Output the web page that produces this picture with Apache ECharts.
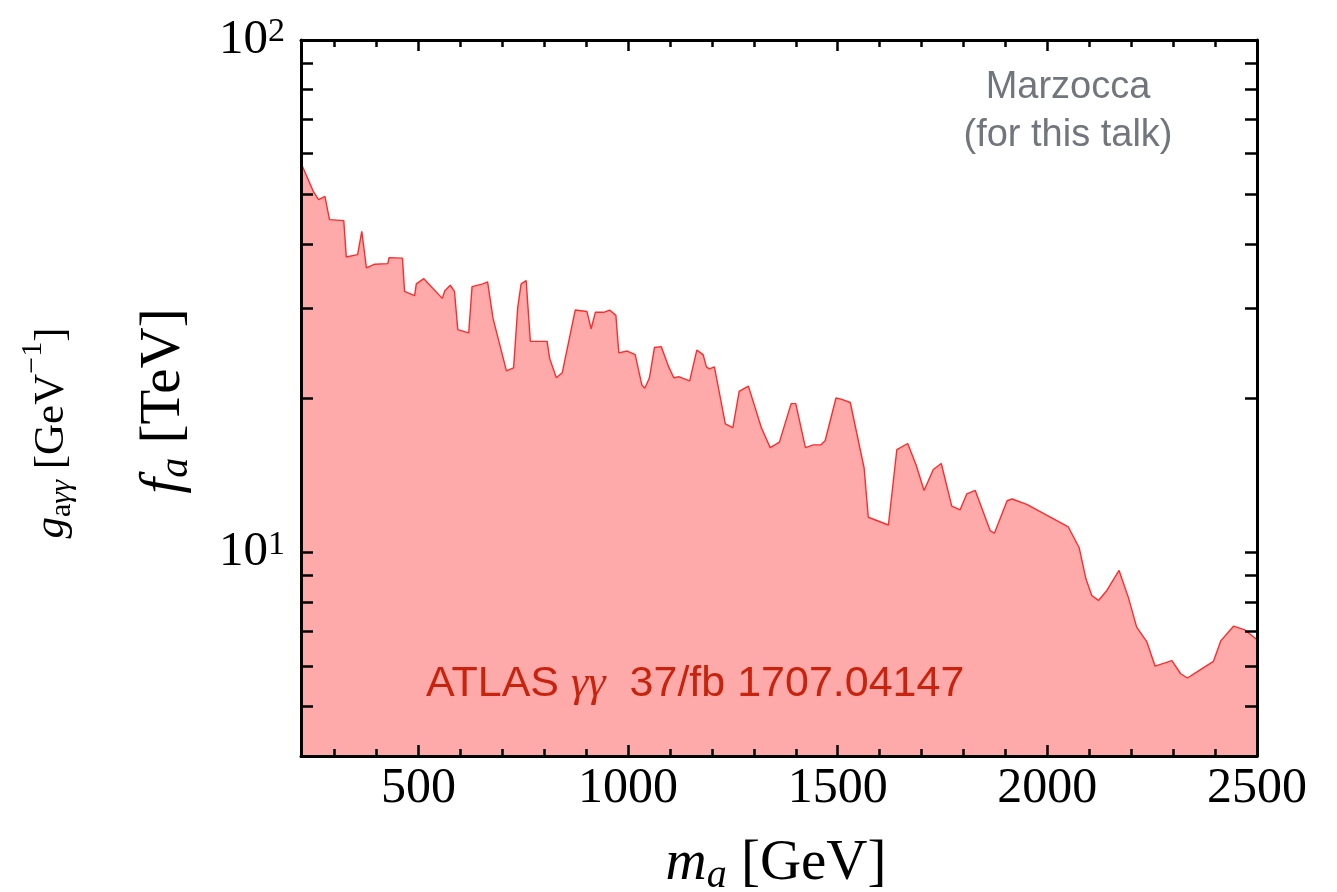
<!DOCTYPE html>
<html>
<head>
<meta charset="utf-8">
<script src="https://cdn.jsdelivr.net/npm/echarts@6/dist/echarts.min.js"></script>
<style>
  html, body { margin: 0; padding: 0; background: #ffffff; }
  #chart { width: 1337px; height: 892px; }
</style>
</head>
<body>
<div id="chart"></div>
<script>
// ATLAS diphoton exclusion translated into a lower bound on f_a
const massGeV = [220, 250, 262, 277, 288, 322, 328, 355, 365, 376,
  396, 427, 430, 462, 467, 491, 495, 513, 557, 563,
  576, 586, 594, 620, 628, 654, 665, 678, 710, 727,
  737, 745, 757, 767, 807, 813, 829, 843, 874, 902,
  912, 922, 942, 956, 971, 978, 998, 1017, 1033, 1040,
  1051, 1063, 1079, 1097, 1109, 1122, 1147, 1164, 1179, 1187,
  1194, 1206, 1232, 1250, 1265, 1287, 1318, 1339, 1361, 1389,
  1400, 1423, 1442, 1460, 1470, 1496, 1508, 1530, 1563, 1573,
  1621, 1641, 1667, 1687, 1706, 1728, 1747, 1772, 1792, 1808,
  1828, 1864, 1874, 1904, 1916, 1951, 2050, 2076, 2092, 2106,
  2122, 2142, 2171, 2193, 2213, 2237, 2257, 2297, 2318, 2334,
  2356, 2396, 2414, 2444, 2471, 2493, 2500];
const faTeV = [57.5, 50.5, 48.8, 49.5, 44.6, 44.4, 37.7, 38.1, 42.3, 35.9,
  36.5, 36.6, 37.6, 37.5, 32.3, 31.7, 33.4, 34.2, 31.3, 32.4,
  33.2, 32.3, 27.2, 26.8, 33.0, 33.4, 33.7, 28.6, 22.6, 22.9,
  30.1, 33.4, 33.9, 25.8, 25.8, 23.9, 21.9, 22.4, 29.7, 29.5,
  27.3, 29.4, 29.4, 29.7, 29.0, 24.5, 24.7, 24.3, 21.2, 20.9,
  21.9, 25.1, 25.2, 23.0, 21.9, 22.0, 21.6, 24.8, 24.3, 23.0,
  22.8, 23.0, 17.8, 17.5, 20.6, 21.1, 17.5, 16.0, 16.4, 19.5,
  19.5, 16.0, 16.2, 16.2, 16.5, 20.0, 19.9, 19.6, 14.6, 11.7,
  11.3, 15.85, 16.3, 14.8, 13.2, 14.5, 14.9, 12.3, 12.1, 13.0,
  13.2, 11.0, 10.9, 12.6, 12.7, 12.4, 11.2, 10.2, 8.87, 8.23,
  8.05, 8.42, 9.21, 8.17, 7.14, 6.69, 5.99, 6.14, 5.79, 5.68,
  5.83, 6.12, 6.72, 7.17, 7.05, 6.82, 6.75];

// Axis ranges and tick positions
const xRange = [220, 2500];
const yRange = [4, 100];
const xMajorTicks = [500, 1000, 1500, 2000, 2500];
const xMinorTicks = [300, 400, 600, 700, 800, 900, 1100, 1200, 1300, 1400,
  1600, 1700, 1800, 1900, 2100, 2200, 2300, 2400];
const yTicks = [5, 6, 7, 8, 9, 10, 20, 30, 40, 50, 60, 70, 80, 90, 100];
const yLabelValues = [10, 100];

const serif = '"Liberation Serif", "DejaVu Serif", serif';
const sans = '"Liberation Sans", Arial, sans-serif';

const chart = echarts.init(document.getElementById('chart'), null, { renderer: 'canvas' });

function xAxisDef(position, ticks, tickLen, withLine, withLabels) {
  return {
    type: 'value', position: position, min: xRange[0], max: xRange[1], z: 5,
    axisLine: { show: withLine, onZero: false, lineStyle: { color: '#000', width: 3 } },
    axisTick: { show: true, inside: true, length: tickLen, customValues: ticks,
      lineStyle: { color: '#000', width: 2.5 } },
    axisLabel: withLabels ? {
      show: true, customValues: xMajorTicks, margin: 8,
      formatter: function (v) { return String(v); },
      fontFamily: serif, fontSize: 50, color: '#000'
    } : { show: false },
    splitLine: { show: false }
  };
}

function yAxisDef(position, withLabels) {
  return {
    type: 'log', logBase: 10, position: position, min: yRange[0], max: yRange[1], z: 5,
    axisLine: { show: true, onZero: false, lineStyle: { color: '#000', width: 3 } },
    axisTick: { show: true, inside: true, length: 12, customValues: yTicks,
      lineStyle: { color: '#000', width: 2.5 } },
    minorTick: { show: false },
    axisLabel: withLabels ? {
      show: true, customValues: yLabelValues, margin: 16,
      formatter: function (v) {
        return '{b|10}{p|' + Math.round(Math.log10(v)) + '}';
      },
      rich: {
        b: { fontFamily: serif, fontSize: 49, color: '#000', verticalAlign: 'bottom' },
        p: { fontFamily: serif, fontSize: 34, color: '#000', verticalAlign: 'top' }
      }
    } : { show: false },
    splitLine: { show: false }
  };
}

const option = {
  animation: false,
  backgroundColor: '#ffffff',
  grid: { left: 301, top: 40, width: 956, height: 716, containLabel: false },
  xAxis: [
    xAxisDef('bottom', xMajorTicks, 11, true, true),
    xAxisDef('bottom', xMinorTicks, 7, false, false),
    xAxisDef('top', xMajorTicks, 11, true, false),
    xAxisDef('top', xMinorTicks, 7, false, false)
  ],
  yAxis: [
    yAxisDef('left', true),
    yAxisDef('right', false)
  ],
  series: [{
    type: 'line',
    xAxisIndex: 0,
    yAxisIndex: 0,
    data: massGeV.map((m, i) => [m, faTeV[i]]),
    showSymbol: false,
    symbol: 'none',
    z: 2,
    lineStyle: { color: '#ff2b2b', width: 1.4 },
    areaStyle: { color: '#ffaaaa', opacity: 1, origin: 'start' }
  }],
  graphic: [
    {
      type: 'text', x: 776, y: 866, z: 10,
      style: {
        text: '{i|m}{s|a}{n| [GeV]}', align: 'center', verticalAlign: 'middle',
        rich: {
          i: { fontFamily: serif, fontStyle: 'italic', fontSize: 57, fill: '#000', verticalAlign: 'bottom', padding: [0, 0, 3, 0] },
          s: { fontFamily: serif, fontStyle: 'italic', fontSize: 40, fill: '#000', verticalAlign: 'bottom' },
          n: { fontFamily: serif, fontSize: 57, fill: '#000', verticalAlign: 'bottom', padding: [0, 0, 3, 0] }
        }
      }
    },
    {
      type: 'text', x: 166, y: 401, rotation: Math.PI / 2, z: 10,
      style: {
        text: '{i|f}{s|a}{n| [TeV]}', align: 'center', verticalAlign: 'middle',
        rich: {
          i: { fontFamily: serif, fontStyle: 'italic', fontSize: 57, fill: '#000', verticalAlign: 'bottom', padding: [0, 0, 3, 0] },
          s: { fontFamily: serif, fontStyle: 'italic', fontSize: 40, fill: '#000', verticalAlign: 'bottom' },
          n: { fontFamily: serif, fontSize: 57, fill: '#000', verticalAlign: 'bottom', padding: [0, 0, 3, 0] }
        }
      }
    },
    {
      type: 'text', x: 48, y: 433, rotation: Math.PI / 2, z: 10,
      style: {
        text: '{i|g}{s|a}{si|γγ}{n| [GeV}{p|−1}{n|]}', align: 'center', verticalAlign: 'middle',
        rich: {
          i: { fontFamily: serif, fontStyle: 'italic', fontSize: 43, fill: '#000', verticalAlign: 'bottom', padding: [12, 0, 4, 0] },
          s: { fontFamily: serif, fontSize: 30, fill: '#000', verticalAlign: 'bottom' },
          si: { fontFamily: serif, fontStyle: 'italic', fontSize: 30, fill: '#000', verticalAlign: 'bottom' },
          n: { fontFamily: serif, fontSize: 43, fill: '#000', verticalAlign: 'bottom', padding: [12, 0, 4, 0] },
          p: { fontFamily: serif, fontSize: 30, fill: '#000', verticalAlign: 'top' }
        }
      }
    },
    {
      type: 'text', x: 1068, y: 88, z: 10,
      style: { text: 'Marzocca', align: 'center', verticalAlign: 'middle',
        fontFamily: sans, fontSize: 38, fill: '#71757c' }
    },
    {
      type: 'text', x: 1068, y: 136, z: 10,
      style: { text: '(for this talk)', align: 'center', verticalAlign: 'middle',
        fontFamily: sans, fontSize: 38, fill: '#71757c' }
    },
    {
      type: 'text', x: 426, y: 684, z: 10,
      style: {
        text: '{s|ATLAS }{g|γγ}{s|  37/fb 1707.04147}', align: 'left', verticalAlign: 'middle',
        rich: {
          s: { fontFamily: sans, fontSize: 43, fill: '#c8230c' },
          g: { fontFamily: serif, fontStyle: 'italic', fontSize: 44, fill: '#c8230c' }
        }
      }
    }
  ]
};

chart.setOption(option);
</script>
</body>
</html>
